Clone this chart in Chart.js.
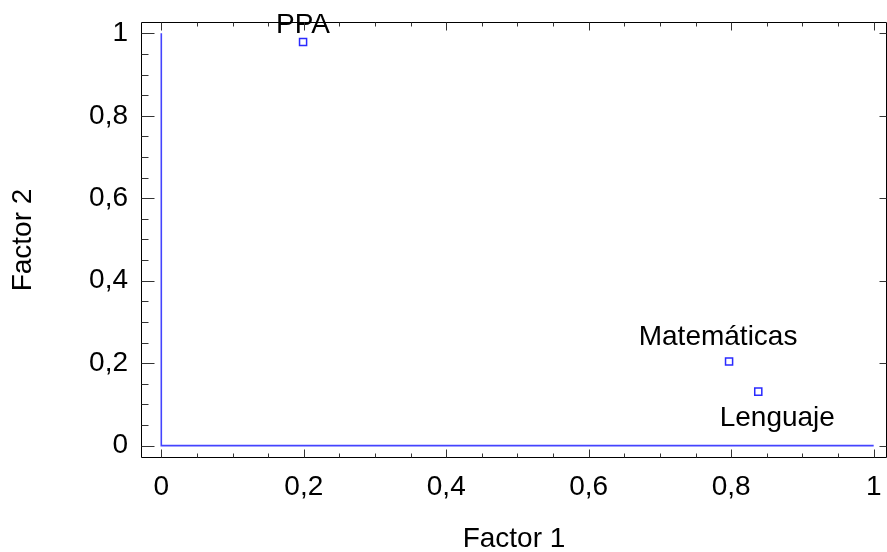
<!DOCTYPE html>
<html>
<head>
<meta charset="utf-8">
<script src="https://cdn.jsdelivr.net/npm/chart.js@4.4.1/dist/chart.umd.min.js"></script>
<style>
  html, body { margin: 0; padding: 0; background: #fff; }
  #wrap { width: 887px; height: 552px; }
</style>
</head>
<body>
<div id="wrap"><canvas id="c" width="887" height="552"></canvas></div>
<script>
// ---- data ----
const variableNames = ['PPA', 'Matemáticas', 'Lenguaje'];
const factor1 = [0.199, 0.797, 0.838];
const factor2 = [0.979, 0.204, 0.131];
const xTicks = [0, 0.2, 0.4, 0.6, 0.8, 1];
const xTickLabels = ['0', '0,2', '0,4', '0,6', '0,8', '1'];
const yTicks = [0, 0.2, 0.4, 0.6, 0.8, 1];
const yTickLabels = ['0', '0,2', '0,4', '0,6', '0,8', '1'];
const axisLineX = [0, 0, 1];
const axisLineY = [1, 0, 0];
const xTitle = 'Factor 1';
const yTitle = 'Factor 2';

const FONT = "'Liberation Sans', Arial, sans-serif";
const FS = 28;
const BLUE = '#4444ff';

const points = factor1.map((x, i) => ({ x: x, y: factor2[i] }));
const axisLine = axisLineX.map((x, i) => ({ x: x, y: axisLineY[i] }));

// label offsets in pixels (dx from point centre, dy baseline from point)
const labelOffsets = [[0, -9], [-11, -17], [19, 34]];

const frame = {
  id: 'frame',
  afterDraw(chart) {
    const { ctx, chartArea: a, scales: { x, y } } = chart;
    ctx.save();
    ctx.strokeStyle = '#000';
    ctx.lineWidth = 1;
    const L = Math.round(a.left) + 0.5, R = Math.round(a.right) - 0.5;
    const T = Math.round(a.top) + 0.5, B = Math.round(a.bottom) - 0.5;
    ctx.beginPath();
    ctx.rect(L, T, R - L, B - T);
    ctx.stroke();
    // minor + major ticks
    const minorStep = 0.05;
    ctx.strokeStyle = '#333';
    ctx.beginPath();
    for (let k = 0; k <= 20; k++) {
      const v = k * minorStep;
      const major = k % 4 === 0;
      const px = Math.round(x.getPixelForValue(v)) + 0.5;
      const py = Math.round(y.getPixelForValue(v)) + 0.5;
      ctx.moveTo(px, B); ctx.lineTo(px, B - (major ? 8 : 4));
      ctx.moveTo(px, T); ctx.lineTo(px, T + (major ? 8 : 4));
      ctx.moveTo(L, py); ctx.lineTo(L + (major ? 13 : 7), py);
      if (major) { ctx.moveTo(R, py); ctx.lineTo(R - 7, py); }
    }
    ctx.stroke();
    ctx.restore();
  }
};

const pointLabels = {
  id: 'pointLabels',
  afterDatasetsDraw(chart) {
    const { ctx } = chart;
    const meta = chart.getDatasetMeta(1);
    ctx.save();
    ctx.font = FS + 'px ' + FONT;
    ctx.fillStyle = '#000';
    ctx.textAlign = 'center';
    ctx.textBaseline = 'alphabetic';
    meta.data.forEach((el, i) => {
      const o = labelOffsets[i];
      ctx.fillText(variableNames[i], el.x + o[0], el.y + o[1]);
    });
    ctx.restore();
  }
};

new Chart(document.getElementById('c'), {
  type: 'scatter',
  data: {
    datasets: [
      {
        data: axisLine,
        showLine: true,
        borderColor: BLUE,
        borderWidth: 1.6,
        pointRadius: 0,
        fill: false,
        tension: 0
      },
      {
        data: points,
        pointStyle: 'rect',
        pointRadius: 5,
        pointBorderWidth: 1.5,
        borderColor: '#2a2aff',
        backgroundColor: 'rgba(0,0,0,0)',
        showLine: false
      }
    ]
  },
  options: {
    responsive: false,
    animation: false,
    events: [],
    layout: { autoPadding: false, padding: { left: 0, right: 0, top: 22, bottom: 0 } },
    plugins: { legend: { display: false }, tooltip: { enabled: false } },
    scales: {
      x: {
        type: 'linear',
        min: -0.0285,
        max: 1.0187,
        afterBuildTicks: s => { s.ticks = xTicks.map(v => ({ value: v })); },
        afterFit: s => { s.height = 94; s.paddingLeft = 0; s.paddingRight = 0; },
        ticks: {
          callback: (v, i) => xTickLabels[i],
          font: { family: FONT, size: FS },
          color: '#000',
          padding: 12,
          maxRotation: 0,
          autoSkip: false
        },
        grid: { display: false, drawTicks: false },
        border: { display: false },
        title: {
          display: true,
          text: xTitle,
          font: { family: FONT, size: FS, lineHeight: 1 },
          color: '#000',
          padding: { top: 0, bottom: -1 }
        }
      },
      y: {
        type: 'linear',
        min: -0.03,
        max: 1.0275,
        afterBuildTicks: s => { s.ticks = yTicks.map(v => ({ value: v })); },
        afterFit: s => { s.width = 141; s.paddingTop = 0; s.paddingBottom = 0; },
        ticks: {
          callback: (v, i) => yTickLabels[i],
          font: { family: FONT, size: FS },
          color: '#000',
          padding: 13,
          autoSkip: false
        },
        grid: { display: false, drawTicks: false },
        border: { display: false },
        title: {
          display: true,
          text: yTitle,
          font: { family: FONT, size: FS, lineHeight: 1 },
          color: '#000',
          padding: { top: 9, bottom: 0 }
        }
      }
    }
  },
  plugins: [frame, pointLabels]
});
</script>
</body>
</html>
